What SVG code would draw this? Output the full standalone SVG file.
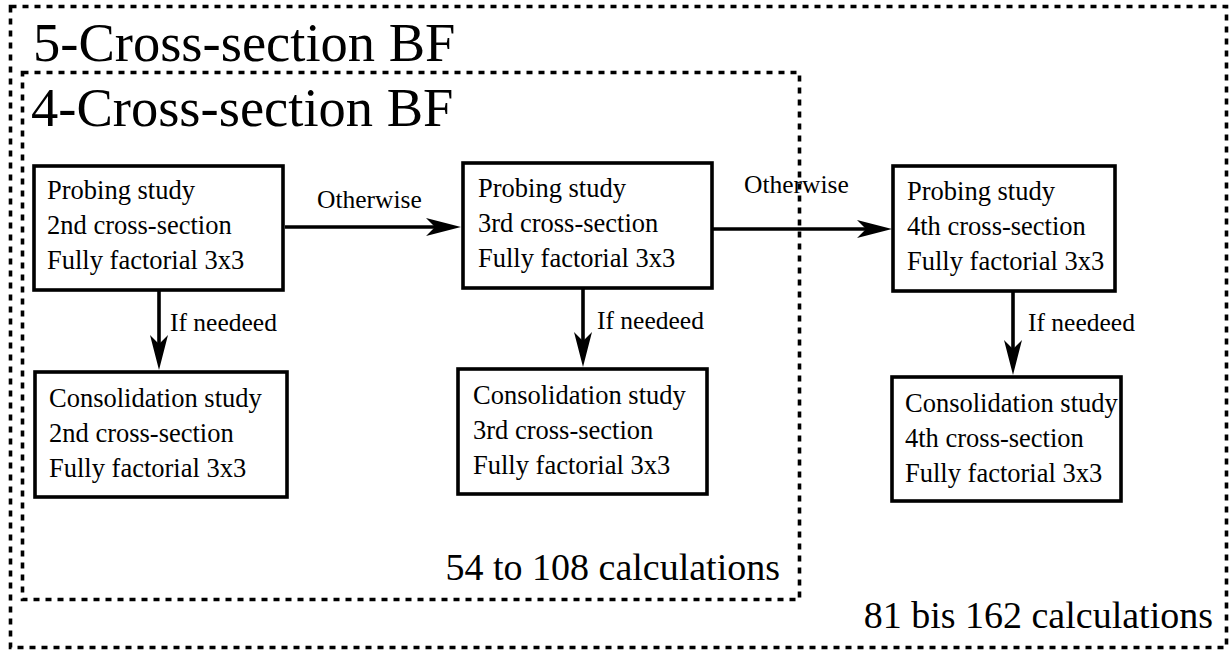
<svg xmlns="http://www.w3.org/2000/svg" width="1231" height="652" viewBox="0 0 1231 652">
<style>
.frame{fill:none;stroke:#000;stroke-width:3.6;stroke-dasharray:6 6}
.box{fill:#fff;stroke:#000;stroke-width:3.6}
.conn{fill:none;stroke:#000;stroke-width:3.6}
text{font-family:'Liberation Serif',Tinos,'Times New Roman',Times,serif;fill:#000}
.big{font-size:54.5px}
.n{font-size:26.5px}
.lbl{font-size:25.5px}
.calc{font-size:38px}
</style>
<defs>
<marker id="ah" viewBox="0 0 35 18" refX="9" refY="9" markerWidth="35" markerHeight="18" markerUnits="userSpaceOnUse" orient="auto">
<path d="M0,0 L35,9 L0,18 L9,9 Z" fill="#000"/>
</marker>
</defs>
<rect width="1231" height="652" fill="#fff"/>
<g id="frame5">
<rect class="frame" x="10.5" y="6.5" width="1216" height="641"/>
<text class="big" x="33" y="61">5-Cross-section BF</text>
<text class="calc" x="1213" y="628" text-anchor="end">81 bis 162 calculations</text>
</g>
<g id="frame4">
<rect class="frame" x="22.5" y="72.5" width="777" height="527"/>
<text class="big" x="31" y="126">4-Cross-section BF</text>
<text class="calc" x="780" y="580" text-anchor="end">54 to 108 calculations</text>
</g>
<g id="connectors">
<line class="conn" x1="285" y1="227" x2="435" y2="227" marker-end="url(#ah)"/>
<line class="conn" x1="713" y1="229" x2="866" y2="229" marker-end="url(#ah)"/>
<line class="conn" x1="159" y1="290" x2="159" y2="344" marker-end="url(#ah)"/>
<line class="conn" x1="583" y1="288" x2="583" y2="341" marker-end="url(#ah)"/>
<line class="conn" x1="1013" y1="291" x2="1013" y2="349" marker-end="url(#ah)"/>
<text class="lbl" x="317" y="208">Otherwise</text>
<text class="lbl" x="744" y="193">Otherwise</text>
<text class="lbl" x="170" y="331">If needeed</text>
<text class="lbl" x="597" y="329">If needeed</text>
<text class="lbl" x="1028" y="331">If needeed</text>
</g>
<g id="probe2">
<rect class="box" x="34" y="166" width="249" height="124"/>
<text class="n" x="47" y="199">Probing study</text>
<text class="n" x="47" y="234">2nd cross-section</text>
<text class="n" x="47" y="269">Fully factorial 3x3</text>
</g>
<g id="probe3">
<rect class="box" x="463" y="163" width="249" height="125"/>
<text class="n" x="478" y="197">Probing study</text>
<text class="n" x="478" y="232">3rd cross-section</text>
<text class="n" x="478" y="267">Fully factorial 3x3</text>
</g>
<g id="probe4">
<rect class="box" x="893" y="166" width="222" height="125"/>
<text class="n" x="907" y="200">Probing study</text>
<text class="n" x="907" y="235">4th cross-section</text>
<text class="n" x="907" y="270">Fully factorial 3x3</text>
</g>
<g id="cons2">
<rect class="box" x="35" y="372" width="252" height="125"/>
<text class="n" x="49" y="407">Consolidation study</text>
<text class="n" x="49" y="442">2nd cross-section</text>
<text class="n" x="49" y="477">Fully factorial 3x3</text>
</g>
<g id="cons3">
<rect class="box" x="458" y="369" width="249" height="125"/>
<text class="n" x="473" y="404">Consolidation study</text>
<text class="n" x="473" y="439">3rd cross-section</text>
<text class="n" x="473" y="474">Fully factorial 3x3</text>
</g>
<g id="cons4">
<rect class="box" x="892" y="377" width="229" height="124"/>
<text class="n" x="905" y="412">Consolidation study</text>
<text class="n" x="905" y="447">4th cross-section</text>
<text class="n" x="905" y="482">Fully factorial 3x3</text>
</g>
</svg>
